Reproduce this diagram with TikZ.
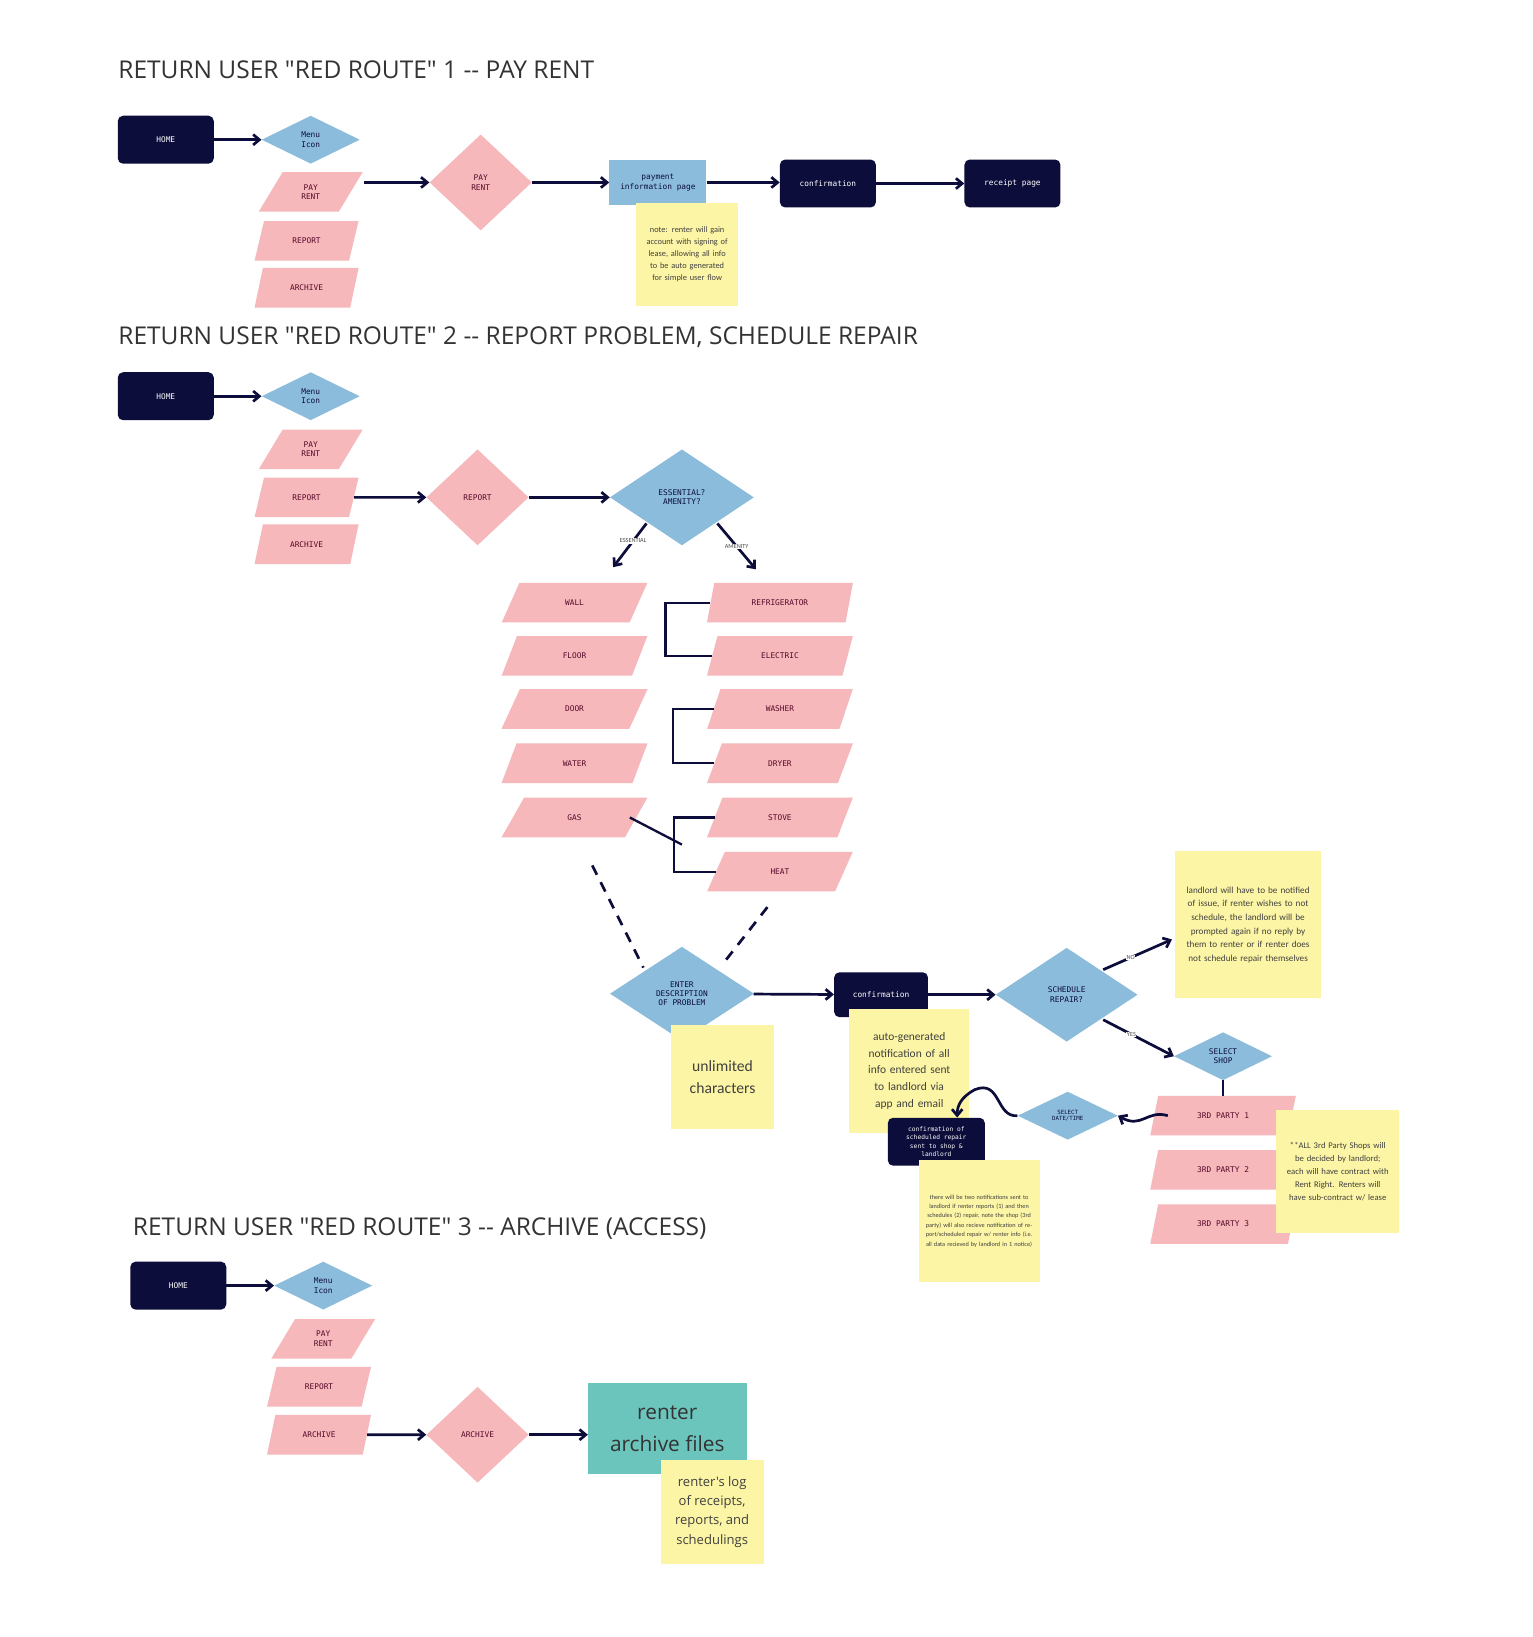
\documentclass[tikz,border=0pt]{standalone}
\usepackage{fontspec}
\setmainfont{Carlito}
\newfontfamily\titlef{Open Sans}
\newfontfamily\mono{DejaVu Sans Mono}
\usetikzlibrary{shapes.geometric,arrows.meta}
\definecolor{navy}{HTML}{0D0D3B}
\definecolor{dblue}{HTML}{8BBCDB}
\definecolor{pinkc}{HTML}{F7B8BB}
\definecolor{yel}{HTML}{FCF5A5}
\definecolor{teal}{HTML}{6CC5BC}
\begin{document}
\begin{tikzpicture}[x=1pt,y=-1pt,
 title/.style={anchor=west,font=\titlef\fontsize{23.5}{26}\selectfont,text=black!80},
 dark/.style={draw=none,fill=navy,rounded corners=5pt,text=white,font=\mono\fontsize{7.5}{9}\selectfont,minimum width=92pt,minimum height=46pt,align=center},
 dia/.style={diamond,fill=dblue,inner sep=0,font=\mono\fontsize{7.5}{9}\selectfont,text=navy,align=center},
 pdia/.style={diamond,fill=pinkc,inner sep=0,minimum width=98pt,minimum height=92pt,font=\mono\fontsize{7.5}{9}\selectfont,text=navy!70!red,align=center},
 para/.style={trapezium,trapezium left angle=62,trapezium right angle=118,trapezium stretches=true,fill=pinkc,inner sep=0,minimum width=#1,minimum height=38pt,font=\mono\fontsize{7.5}{9}\selectfont,text=navy!70!red,align=center},
 para/.default=100pt,
 note/.style={fill=yel,inner sep=4pt,align=center,text=black!75},
 lab/.style={font=\fontsize{6}{6}\selectfont,text=black!70,fill=white,inner sep=0.5pt},
 arr/.style={draw=navy,line width=2.6pt,-{Straight Barb[length=6pt,width=10pt]}},
 ln/.style={draw=navy,line width=2.2pt}]
\useasboundingbox (0,0) rectangle (1470,1570);
\fill[white] (0,0) rectangle (1470,1570);
% ===== Section 1
\node[title] (t1) at (110,67) {RETURN USER "RED ROUTE" 1 -{}- PAY RENT};
\node[dark] (h1) at (159,134) {HOME};
\node[dia,minimum width=94pt,minimum height=46pt] (m1) at (298,134) {Menu\\Icon};
\node[para] (p1a) at (298,184) {PAY\\RENT};
\node[para] (p1b) at (294,231) {REPORT};
\node[para] (p1c) at (294,276) {ARCHIVE};
\node[pdia] (d1) at (461,175) {PAY\\RENT};
\node[fill=dblue,minimum width=93pt,minimum height=44pt,inner sep=0,font=\mono\fontsize{7.5}{9}\selectfont,text=navy,align=center] (pay) at (631,175) {payment\\information page};
\node[dark] (c1) at (794,176) {confirmation};
\node[dark] (r1) at (971,176) {receipt page};
\node[note,minimum width=98pt,minimum height=98pt,font=\fontsize{8}{11.5}\selectfont,text width=88pt] (n1) at (659,244) {note: renter will gain account with signing of lease, allowing all info to be auto generated for simple user flow};
\draw[arr] (h1) -- (m1);
\draw[arr] (349,175) -- (d1);
\draw[arr] (d1) -- (pay.west);
\draw[arr] (pay.east) -- (c1.west|-pay.east);
\draw[arr] (c1) -- (r1);
% ===== Section 2
\node[title] (t2) at (110,323) {RETURN USER "RED ROUTE" 2 -{}- REPORT PROBLEM, SCHEDULE REPAIR};
\node[dark] (h2) at (159,380) {HOME};
\node[dia,minimum width=94pt,minimum height=46pt] (m2) at (298,380) {Menu\\Icon};
\node[para] (p2a) at (298,431) {PAY\\RENT};
\node[para] (p2b) at (294,477) {REPORT};
\node[para] (p2c) at (294,522) {ARCHIVE};
\node[pdia] (d2) at (458,477) {REPORT};
\node[dia,minimum width=138pt,minimum height=92pt] (ea) at (654,477) {ESSENTIAL?\\AMENITY?};
\draw[arr] (h2) -- (m2);
\draw[arr] (p2b.east) -- (d2);
\draw[arr] (d2) -- (ea);
\coordinate (es) at (588,544);
\coordinate (am) at (725,546);
\draw[arr] (620,502) -- (es) node[pos=0.4,lab] {ESSENTIAL};
\draw[arr] (688,502) -- (am) node[pos=0.5,lab] {AMENITY};
\foreach \n/\t/\y in {w/WALL/578,f/FLOOR/629,d/DOOR/680,wa/WATER/732,g/GAS/784}
  \node[para=140pt] (\n) at (551,\y) {\t};
\foreach \n/\t/\y in {rf/REFRIGERATOR/578,el/ELECTRIC/629,ws/WASHER/680,dr/DRYER/732,st/STOVE/784,ht/HEAT/836}
  \node[para=140pt] (\n) at (748,\y) {\t};
\draw[ln] (rf.west) -- ++(-43,0) |- (el.west);
\draw[ln] (ws.west) -- ++(-39,0) |- (dr.west);
\draw[ln] (st.west) -- ++(-39,0) |- (ht.west);
\coordinate (gj) at (654,810);
\draw[ln] (604,784) -- (gj);
\node[dia,minimum width=138pt,minimum height=90pt] (ed) at (654,953) {ENTER\\DESCRIPTION\\OF PROBLEM};
\draw[navy,line width=2.6pt,dash pattern=on 10pt off 8pt] (568,830) -- (617,928);
\draw[navy,line width=2.6pt,dash pattern=on 10pt off 8pt] (736,870) -- (692,926);
\node[note,minimum width=98pt,minimum height=99pt,font=\fontsize{15}{21}\selectfont] (n2) at (693,1033) {unlimited\\characters};
\node[dark,minimum width=90pt,minimum height=43pt] (c2) at (845,954) {confirmation};
\node[note,minimum width=115pt,minimum height=119pt,font=\fontsize{11}{16}\selectfont,text width=105pt] (n3) at (872,1027) {auto-generated notification of all info entered sent to landlord via app and email};
\draw[arr] (ed) -- (c2);
\node[dia,minimum width=136pt,minimum height=90pt] (sr) at (1023,954) {SCHEDULE\\REPAIR?};
\draw[arr] (c2) -- (sr);
\node[note,minimum width=140pt,minimum height=141pt,font=\fontsize{8.8}{13}\selectfont,text width=128pt] (n4) at (1197,887) {landlord will have to be notified of issue, if renter wishes to not schedule, the landlord will be prompted again if no reply by them to renter or if renter does not schedule repair themselves};
\coordinate (no) at (1124,901);
\draw[arr] (1058,930) -- (no) node[pos=0.4,lab] {NO};
\node[dia,minimum width=94pt,minimum height=46pt] (ss) at (1173,1013) {SELECT\\SHOP};
\draw[arr] (1058,978) -- (ss.west) node[pos=0.4,lab] {YES};
\node[para=140pt] (t3a) at (1173,1070) {3RD PARTY 1};
\node[para=140pt] (t3b) at (1173,1122) {3RD PARTY 2};
\node[para=140pt] (t3c) at (1173,1174) {3RD PARTY 3};
\draw[ln] (ss.south) -- (t3a.north-|ss.south);
\node[note,minimum width=118pt,minimum height=118pt,font=\fontsize{8.3}{12.5}\selectfont,text width=104pt] (n5) at (1283,1124) {**ALL 3rd Party Shops will be decided by landlord; each will have contract with Rent Right. Renters will have sub-contract w/ lease};
\node[dia,minimum width=96pt,minimum height=46pt,font=\mono\fontsize{5.5}{6.5}\selectfont] (sd) at (1024,1070) {SELECT\\DATE/TIME};
\draw[arr] (1120,1070) .. controls (1100,1064) and (1095,1083) .. (sd.east);
\node[dark,minimum width=93pt,minimum height=46pt,font=\mono\fontsize{6}{8}\selectfont] (cs) at (898,1095) {confirmation of\\scheduled repair\\sent to shop \&\\landlord};
\draw[arr] (sd.west) .. controls (955,1072) and (960,1035) .. (935,1045) .. controls (922,1052) and (918,1060) .. (cs.north-|918,0);
\node[note,minimum width=116pt,minimum height=117pt,font=\fontsize{6}{9}\selectfont,text width=104pt] (n6) at (939,1171) {there will be two notifications sent to landlord if renter reports (1) and then schedules (2) repair, note the shop (3rd party) will also recieve notification of report/scheduled repair w/ renter info (i.e. all data recieved by landlord in 1 notice)};
% ===== Section 3
\node[title] (t3) at (124,1178) {RETURN USER "RED ROUTE" 3 -{}- ARCHIVE (ACCESS)};
\node[dark] (h3) at (171,1233) {HOME};
\node[dia,minimum width=94pt,minimum height=46pt] (m3) at (310,1233) {Menu\\Icon};
\node[para] (p3a) at (310,1284) {PAY\\RENT};
\node[para] (p3b) at (306,1330) {REPORT};
\node[para] (p3c) at (306,1376) {ARCHIVE};
\node[pdia] (d3) at (458,1376) {ARCHIVE};
\node[fill=teal,minimum width=152pt,minimum height=87pt,inner sep=0,font=\titlef\fontsize{20}{31}\selectfont,text=black!80,align=center] (ra) at (640,1370) {renter\\archive files};
\node[note,minimum width=99pt,minimum height=100pt,font=\titlef\fontsize{12.5}{18.5}\selectfont] (n7) at (683,1450) {renter's log\\of receipts,\\reports, and\\schedulings};
\draw[arr] (h3) -- (m3);
\draw[arr] (p3c.east) -- (d3);
\draw[arr] (d3) -- (ra.west|-d3);
\end{tikzpicture}
\end{document}
